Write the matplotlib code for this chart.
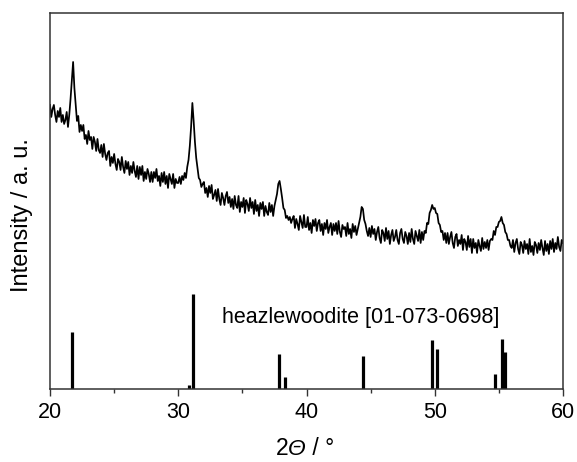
import matplotlib
matplotlib.use("Agg")
import matplotlib.pyplot as plt
import numpy as np

plt.rcParams['font.family'] = ['Liberation Sans', 'DejaVu Sans']

# measured pattern, 2theta scan 20-60 deg, step 0.1 deg (intensity in a.u.)
scan_start = 20.0
scan_step = 0.1
intensity = [
    284, 272, 280, 284, 274, 267, 278, 272, 281, 267,   # 20
    274, 265, 269, 277, 262, 274, 290, 308, 327, 301,   # 21
    284, 268, 273, 257, 264, 258, 264, 250, 254, 245,   # 22
    258, 249, 252, 240, 252, 247, 238, 250, 239, 236,   # 23
    244, 232, 245, 235, 229, 236, 238, 223, 232, 226,   # 24
    235, 225, 219, 230, 227, 219, 232, 222, 216, 228,   # 25
    220, 227, 214, 223, 216, 227, 218, 212, 223, 210,   # 26
    222, 214, 223, 208, 217, 210, 220, 215, 207, 217,   # 27
    207, 217, 211, 220, 208, 213, 203, 216, 207, 217,   # 28
    205, 213, 201, 215, 210, 205, 215, 201, 210, 206,   # 29
    206, 212, 205, 213, 209, 216, 211, 222, 229, 243,   # 30
    262, 286, 268, 247, 231, 221, 211, 209, 202, 205,   # 31
    207, 196, 201, 192, 203, 196, 204, 190, 194, 199,   # 32
    188, 200, 190, 184, 196, 191, 184, 193, 197, 186,   # 33
    192, 182, 190, 180, 193, 184, 181, 193, 177, 187,   # 34
    182, 191, 176, 189, 185, 178, 191, 181, 187, 175,   # 35
    189, 178, 184, 173, 186, 180, 187, 173, 183, 177,   # 36
    174, 186, 177, 184, 173, 183, 189, 195, 205, 208,   # 37
    200, 191, 181, 179, 171, 173, 169, 172, 166, 170,   # 38
    173, 161, 170, 165, 159, 173, 167, 161, 174, 162,   # 39
    162, 172, 159, 166, 156, 169, 163, 170, 158, 166,   # 40
    169, 158, 165, 154, 166, 160, 169, 156, 162, 166,   # 41
    154, 165, 158, 166, 155, 168, 157, 152, 164, 160,   # 42
    162, 153, 166, 155, 160, 151, 165, 157, 163, 154,   # 43
    160, 166, 172, 182, 180, 169, 165, 158, 153, 161,   # 44
    152, 163, 155, 160, 149, 157, 162, 151, 146, 159,   # 45
    156, 148, 161, 150, 158, 145, 154, 159, 148, 152,   # 46
    159, 149, 145, 156, 160, 150, 146, 157, 153, 145,   # 47
    156, 147, 160, 150, 145, 158, 153, 148, 159, 146,   # 48
    157, 149, 158, 156, 166, 165, 176, 179, 184, 180,   # 49
    181, 176, 175, 166, 164, 157, 158, 149, 156, 146,   # 50
    156, 145, 152, 157, 146, 141, 152, 155, 143, 149,   # 51
    145, 154, 139, 150, 147, 139, 153, 142, 150, 136,   # 52
    150, 141, 146, 136, 149, 143, 138, 151, 140, 147,   # 53
    141, 149, 139, 148, 150, 149, 158, 154, 162, 162,   # 54
    167, 168, 172, 166, 164, 157, 155, 149, 149, 143,   # 55
    141, 149, 137, 146, 150, 140, 135, 147, 144, 136,   # 56
    148, 140, 145, 135, 150, 137, 143, 134, 147, 144,   # 57
    136, 146, 139, 149, 141, 134, 148, 138, 145, 135,   # 58
    148, 140, 150, 137, 146, 140, 152, 142, 138, 149,   # 59
    146,                                                # 60
]

# reference pattern heazlewoodite [01-073-0698]
ref_pos = [21.75, 30.87, 31.13, 37.85, 38.33, 44.43, 49.78, 50.17, 54.68, 55.27, 55.5]
ref_int = [57, 4, 95, 35, 12, 33, 49, 40, 15, 50, 37]
ref_name = "heazlewoodite [01-073-0698]"

two_theta = scan_start + scan_step * np.arange(len(intensity))

fig = plt.figure(figsize=(5.77, 4.62), dpi=100)
ax = fig.add_axes([0.0867, 0.158, 0.889, 0.814])

ax.plot(two_theta, intensity, color='black', lw=1.25)
ax.vlines(ref_pos, 0, ref_int, color='black', lw=2.3)
ax.text(33.4, 71, ref_name, ha='left', va='center', fontsize=15.5)

ax.set_xlim(20, 60)
ax.set_ylim(0, 376)
ax.set_xticks([20, 30, 40, 50, 60])
ax.set_xticks([25, 35, 45, 55], minor=True)
ax.set_yticks([])
ax.tick_params(axis='x', which='major', direction='out', length=5, width=1,
               labelsize=15.5, pad=4, color='#333333')
ax.tick_params(axis='x', which='minor', direction='out', length=3, width=1,
               color='#333333')
for sp in ax.spines.values():
    sp.set_linewidth(1.1)
    sp.set_color('#333333')

ax.set_ylabel("Intensity / a. u.", fontsize=17)
ax.yaxis.set_label_coords(-0.033, 0.463)

# x label "2Θ / °" with italic Theta, built from pieces
parts = [("2", "normal"), ("Θ", "italic"), (" / °", "normal")]
texts = [fig.text(0, 0.016, s, fontsize=16.5, style=st, va='baseline', ha='left')
         for s, st in parts]
fig.canvas.draw()
r = fig.canvas.get_renderer()
widths = [t.get_window_extent(r).width for t in texts]
x0 = 305 - sum(widths) / 2
for t, w in zip(texts, widths):
    t.set_x(x0 / fig.bbox.width)
    x0 += w

fig.savefig("out.png", dpi=100)
